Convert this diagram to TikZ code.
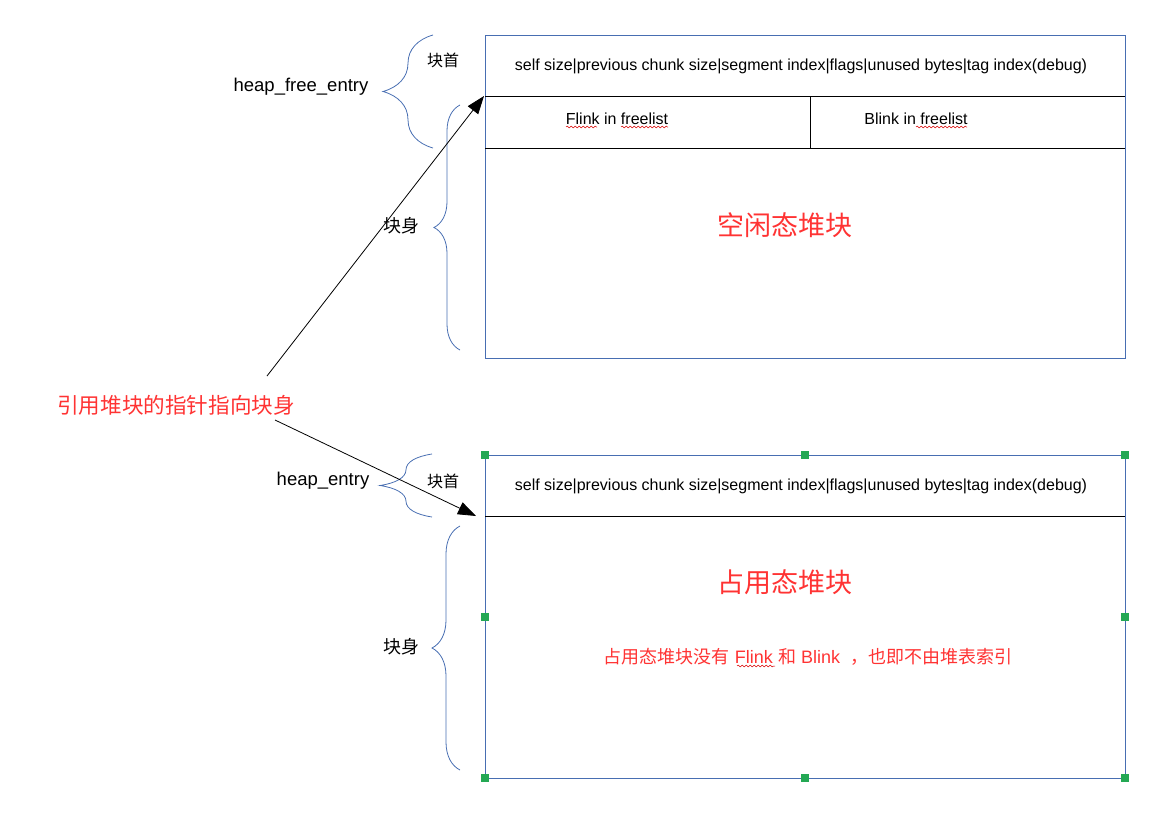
\documentclass[tikz,border=0pt]{standalone}
\usepackage{fontspec}
\setmainfont{Liberation Sans}
\newfontfamily\cjk{Noto Sans CJK SC}
\usetikzlibrary{arrows.meta,decorations.pathreplacing,decorations.pathmorphing}
\definecolor{frameblue}{RGB}{72,110,178}
\definecolor{notered}{RGB}{255,51,51}
\definecolor{handlegreen}{RGB}{36,168,84}

\begin{document}
\begin{tikzpicture}[x=1pt,y=-1pt,
  frame/.style={draw=frameblue, line width=0.9pt},
  sep/.style={draw=black, line width=0.9pt},
  field/.style={font=\fontsize{16}{18}\selectfont, inner sep=0pt},
  entry/.style={font=\fontsize{18.5}{20}\selectfont, inner sep=0pt},
  part/.style={font=\cjk\fontsize{#1}{#1}\selectfont, inner sep=0pt},
  title/.style={font=\cjk\fontsize{27}{30}\selectfont, text=notered, inner sep=0pt},
  note/.style={font=\fontsize{18}{20}\selectfont, text=notered, inner sep=0pt},
  curly/.style={draw=frameblue, line width=0.8pt, decorate, decoration={brace, amplitude=#1}},
  pointer/.style={-{Triangle[length=18pt,width=13pt]}, draw=black, line width=0.8pt},
  handle/.style={fill=handlegreen, minimum size=8pt, inner sep=0pt},
  squiggle/.style={draw=red!85!black, line width=0.5pt, decorate, decoration={snake, amplitude=0.9pt, segment length=4pt}}
]
\useasboundingbox (0,0) rectangle (1175,825);

% free chunk
\draw[frame] (485,35) rectangle (1125,358);
\draw[sep] (485,96) -- (1125,96);
\draw[sep] (485,148) -- (1125,148);
\draw[sep] (810,96) -- (810,148);
\node[field] (freehead) at (801,66) {self size|previous chunk size|segment index|flags|unused bytes|tag index(debug)};
\node[field] (flink) at (617,119) {Flink in freelist};
\node[field] (blink) at (916,119) {Blink in freelist};
\draw[squiggle] (566,127) -- (597,127);
\draw[squiggle] (621,127) -- (668,127);
\draw[squiggle] (916,127) -- (967,127);
\node[title] (freetitle) at (785,225) {空闲态堆块};

\draw[curly=50] (433,148) -- (433,35);
\draw[curly=26] (460,350) -- (460,105);
\node[entry] (freeentry) at (301,87) {heap\_free\_entry};
\node[part=16] (freehd) at (443,60) {块首};
\node[part=18] (freebd) at (401,226) {块身};

% busy chunk
\draw[frame] (485,455) rectangle (1125,778);
\draw[sep] (485,516) -- (1125,516);
\node[field] (usedhead) at (801,486) {self size|previous chunk size|segment index|flags|unused bytes|tag index(debug)};
\node[title] (usedtitle) at (785,582) {占用态堆块};
\node[note] (usednote) at (808,657) {{\cjk 占用态堆块没有} Flink {\cjk 和} Blink\ \ {\cjk ，也即不由堆表索引}};
\draw[squiggle] (737,666) -- (775,666);
\foreach \hx/\hy in {485/455,805/455,1125/455,485/617,1125/617,485/778,805/778,1125/778}
  \node[handle] at (\hx,\hy) {};

\draw[curly=52] (432,517) -- (432,454);
\draw[curly=28] (460,770) -- (460,526);
\node[entry] (usedentry) at (323,481) {heap\_entry};
\node[part=16] (usedhd) at (443,481) {块首};
\node[part=18] (usedbd) at (401,647) {块身};

% pointer
\node[part=21.6, text=notered] (ptr) at (176,405) {引用堆块的指针指向块身};
\coordinate (ptrup) at (267,376);
\coordinate (ptrdown) at (275,420);
\coordinate (freebody) at (484,96);
\coordinate (usedbody) at (476,516);
\draw[pointer] (ptrup) -- (freebody);
\draw[pointer] (ptrdown) -- (usedbody);
\end{tikzpicture}
\end{document}
